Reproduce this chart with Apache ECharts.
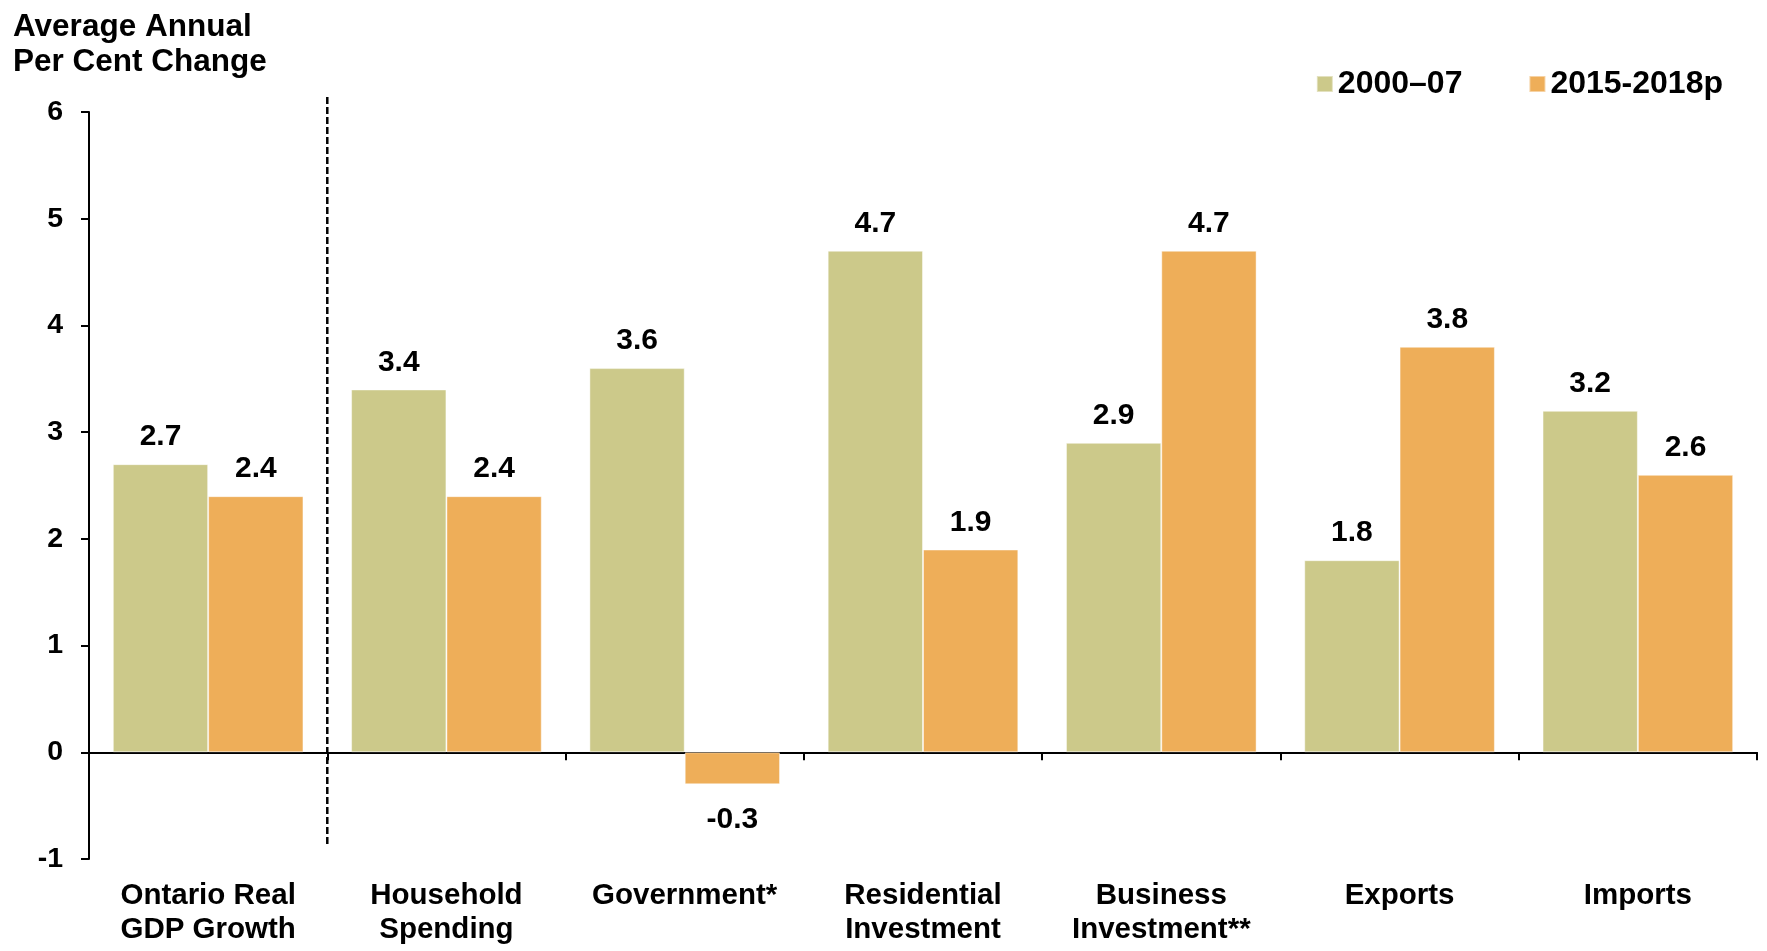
<!DOCTYPE html>
<html>
<head>
<meta charset="utf-8">
<title>Average Annual Per Cent Change</title>
<script src="https://cdn.jsdelivr.net/npm/echarts@6/dist/echarts.min.js"></script>
<style>
  html, body { margin: 0; padding: 0; background: #ffffff; }
  #chart { width: 1767px; height: 951px; }
</style>
</head>
<body>
<div id="chart"></div>
<script>
// Components of Ontario real GDP growth, average annual per cent change
const categories = [
  'Ontario Real\nGDP Growth',
  'Household\nSpending',
  'Government*',
  'Residential\nInvestment',
  'Business\nInvestment**',
  'Exports',
  'Imports'
];
const seriesNames = ['2000\u201307', '2015-2018p'];
const values2000to07 = [2.7, 3.4, 3.6, 4.7, 2.9, 1.8, 3.2];
const values2015to18 = [2.4, 2.4, -0.3, 1.9, 4.7, 3.8, 2.6];
const yTicks = { min: -1, max: 6, step: 1 };

const FONT = '"Liberation Sans", Arial, Helvetica, sans-serif';
const GREEN = '#CCC98A';
const ORANGE = '#EEAE59';

// Dashed separator between the headline GDP figure and its components,
// placed on a hidden value axis spanning the 7 categories
const separatorAt = 1;
const separatorSpan = [6.14, -0.87];

const labelStyle = {
  show: true,
  color: '#000',
  fontFamily: FONT,
  fontWeight: 'bold',
  fontSize: 30,
  distance: 12,
  formatter: p => Number(p.value).toFixed(1)
};

function barSeries(name, values, color) {
  return {
    name: name,
    type: 'bar',
    xAxisIndex: 0,
    yAxisIndex: 0,
    data: values,
    barGap: '0%',
    barCategoryGap: '20%',
    itemStyle: { color: color, borderColor: 'rgba(255,255,255,0.45)', borderWidth: 1 },
    label: Object.assign({}, labelStyle, { position: 'top' }),
    z: 2
  };
}

// negative values carry their label underneath the bar
const withLabelSide = values => values.map(v => (
  v < 0 ? { value: v, label: { position: 'bottom', distance: 20 } } : v
));

const chart = echarts.init(document.getElementById('chart'), null, { renderer: 'canvas' });

chart.setOption({
  backgroundColor: '#ffffff',
  animation: false,
  textStyle: { fontFamily: FONT },
  title: {
    text: 'Average Annual\nPer Cent Change',
    left: 8,
    top: 5,
    textStyle: {
      fontFamily: FONT,
      fontWeight: 'bold',
      fontSize: 31.5,
      lineHeight: 35,
      color: '#000'
    }
  },
  legend: {
    data: seriesNames,
    right: 39,
    top: 62,
    icon: 'rect',
    itemWidth: 16,
    itemHeight: 16,
    itemGap: 66,
    textStyle: {
      fontFamily: FONT,
      fontWeight: 'bold',
      fontSize: 32,
      lineHeight: 34,
      color: '#000'
    }
  },
  grid: {
    left: 89,
    right: 10,
    top: 112,
    bottom: 92,
    containLabel: false
  },
  xAxis: [
    {
      // category labels along the bottom edge
      type: 'category',
      data: categories,
      position: 'bottom',
      axisLine: { show: false, onZero: false },
      axisTick: { show: false },
      splitLine: { show: false },
      axisLabel: {
        interval: 0,
        margin: 20,
        color: '#000',
        fontFamily: FONT,
        fontWeight: 'bold',
        fontSize: 29.5,
        lineHeight: 34
      }
    },
    {
      // zero line with boundary ticks
      type: 'category',
      data: categories,
      position: 'top',
      axisLine: { show: true, onZero: true, lineStyle: { color: '#000', width: 2 } },
      axisTick: {
        show: true,
        inside: true,
        length: 8,
        interval: 0,
        lineStyle: { color: '#000', width: 2 }
      },
      axisLabel: { show: false },
      splitLine: { show: false }
    },
    {
      // hidden value axis for the separator line
      type: 'value',
      min: 0,
      max: categories.length,
      show: false,
      axisLine: { onZero: false },
      splitLine: { show: false }
    }
  ],
  yAxis: {
    type: 'value',
    min: yTicks.min,
    max: yTicks.max,
    interval: yTicks.step,
    axisLine: { show: true, onZero: false, lineStyle: { color: '#000', width: 2 } },
    axisTick: { show: true, length: 8, lineStyle: { color: '#000', width: 2 } },
    splitLine: { show: false },
    axisLabel: {
      margin: 26,
      color: '#000',
      fontFamily: FONT,
      fontWeight: 'bold',
      fontSize: 28.5
    }
  },
  series: [
    barSeries(seriesNames[0], withLabelSide(values2000to07), GREEN),
    barSeries(seriesNames[1], withLabelSide(values2015to18), ORANGE),
    {
      name: 'separator',
      type: 'line',
      xAxisIndex: 2,
      yAxisIndex: 0,
      data: [[separatorAt, separatorSpan[0]], [separatorAt, separatorSpan[1]]],
      showSymbol: false,
      symbol: 'none',
      clip: false,
      silent: true,
      lineStyle: { color: '#000', width: 2.5, type: [7, 3] },
      z: 5
    }
  ]
});
</script>
</body>
</html>
